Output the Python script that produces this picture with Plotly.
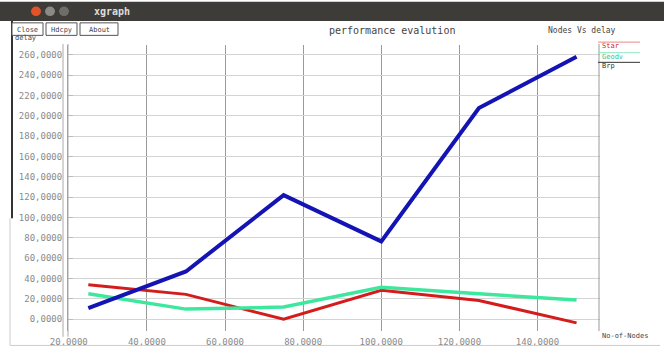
import plotly.graph_objects as go

# ---- data ----
nodes = [25, 50, 75, 100, 125, 150]
star = [34, 24.5, 0, 28.5, 18.5, -3.5]
geodv = [25, 10, 12, 31.5, 25, 19]
brp = [11, 47, 122, 76.5, 207.5, 258]
series_names = ["Star", "Geodv", "Brp"]
y_ticks = list(range(0, 261, 20))
x_ticks = list(range(20, 141, 20))
y_tick_labels = [f"{v},0000" for v in y_ticks]
x_tick_labels = [f"{v},0000" for v in x_ticks]

W, H = 664, 359
L, R, T, B = 68, 600, 45, 342


def px(x):
    return (x - L) / (R - L)


def py(y):
    return (B - y) / (B - T)


fig = go.Figure()
colors = ["#d41c1c", "#3de89e", "#1414b4"]
widths = [3, 3.5, 4]
for name, ys, c, w in zip(series_names, [star, geodv, brp], colors, widths):
    fig.add_trace(go.Scatter(x=nodes, y=ys, mode="lines", name=name,
                             line=dict(color=c, width=w), showlegend=False))

mono = "DejaVu Sans Mono"
fig.update_layout(
    width=W, height=H,
    margin=dict(l=L, r=W - R, t=T, b=H - B),
    paper_bgcolor="white", plot_bgcolor="white",
    font=dict(family=mono, size=8, color="#777777"),
    xaxis=dict(range=[19.8, 156], tickvals=x_ticks, ticktext=x_tick_labels,
               showgrid=True, gridcolor="#9a9a9a", gridwidth=1,
               zeroline=False, showline=False, ticks="", ticklen=0,
               ticklabelstandoff=4,
               tickfont=dict(family=mono, size=9, color="#8a8a8a")),
    yaxis=dict(range=[-11.5, 269.5], tickvals=y_ticks, ticktext=y_tick_labels,
               showgrid=True, gridcolor="#d4d4d4", gridwidth=1,
               zeroline=False, showline=True, linecolor="#999999", linewidth=1,
               ticks="inside", ticklen=5, tickcolor="#bbbbbb",
               ticklabelstandoff=3,
               tickfont=dict(family=mono, size=9, color="#8a8a8a")),
)

shapes = []
# window title bar
shapes.append(dict(type="rect", xref="paper", yref="paper", x0=px(0), x1=px(W),
                   y0=py(20), y1=py(0), fillcolor="#3d3c38", line=dict(width=0), layer="below"))
# window buttons
for cx, col in [(36, "#e0542a"), (50, "#8a8a86"), (64, "#6e6d69")]:
    shapes.append(dict(type="circle", xref="paper", yref="paper",
                       x0=px(cx - 5), x1=px(cx + 5), y0=py(15), y1=py(5),
                       fillcolor=col, line=dict(width=0)))
# left window edge
shapes.append(dict(type="line", xref="paper", yref="paper", x0=px(12), x1=px(12),
                   y0=py(20), y1=py(225), line=dict(color="#333333", width=2)))
# second axis line (double line on left)
shapes.append(dict(type="line", xref="paper", yref="paper", x0=px(63), x1=px(63),
                   y0=py(44), y1=py(348), line=dict(color="#aaaaaa", width=1)))
shapes.append(dict(type="line", xref="paper", yref="paper", x0=px(68), x1=px(68),
                   y0=py(44), y1=py(348), line=dict(color="#aaaaaa", width=1)))
# right border of plot
shapes.append(dict(type="line", xref="paper", yref="paper", x0=px(599), x1=px(599),
                   y0=py(44), y1=py(342), line=dict(color="#999999", width=1)))
# outer frame lines
shapes.append(dict(type="line", xref="paper", yref="paper", x0=px(10), x1=px(660),
                   y0=py(357), y1=py(357), line=dict(color="#cccccc", width=1)))
shapes.append(dict(type="line", xref="paper", yref="paper", x0=px(10), x1=px(10),
                   y0=py(225), y1=py(357), line=dict(color="#cccccc", width=1)))
# menu buttons
for x0, x1 in [(12, 43), (46, 77), (80, 118)]:
    shapes.append(dict(type="rect", xref="paper", yref="paper", x0=px(x0), x1=px(x1),
                       y0=py(35), y1=py(22), line=dict(color="#555555", width=1),
                       fillcolor="white"))
# legend lines
for yy, c in [(42, "#e88888"), (53, "#8fe8c0"), (63, "#333333")]:
    shapes.append(dict(type="line", xref="paper", yref="paper", x0=px(598), x1=px(640),
                       y0=py(yy), y1=py(yy), line=dict(color=c, width=1)))
fig.update_layout(shapes=shapes)

ann = []


def text(x, y, s, color="#444444", size=8, xanchor="left", family=mono):
    ann.append(dict(xref="paper", yref="paper", x=px(x), y=py(y), text=s,
                    showarrow=False, xanchor=xanchor, yanchor="middle",
                    font=dict(family=family, size=size, color=color)))


text(92, 10, "<b>xgraph</b>", color="#dddddd", size=10)
text(27.5, 29, "Close", xanchor="center", size=7)
text(61.5, 29, "Hdcpy", xanchor="center", size=7)
text(99, 29, "About", xanchor="center", size=7)
text(392, 30, "performance evalution", xanchor="center", size=10)
text(582, 30, "Nodes Vs delay", xanchor="center", size=8)
text(13, 38, "delay", size=7)
text(600, 46, series_names[0], color="#d41c1c", size=7)
text(600, 57, series_names[1], color="#2cc488", size=7)
text(600, 67, series_names[2], color="#333333", size=7)
text(600, 347, "No-of-Nodes", size=7)
fig.update_layout(annotations=ann)

fig.write_html("out.html")
